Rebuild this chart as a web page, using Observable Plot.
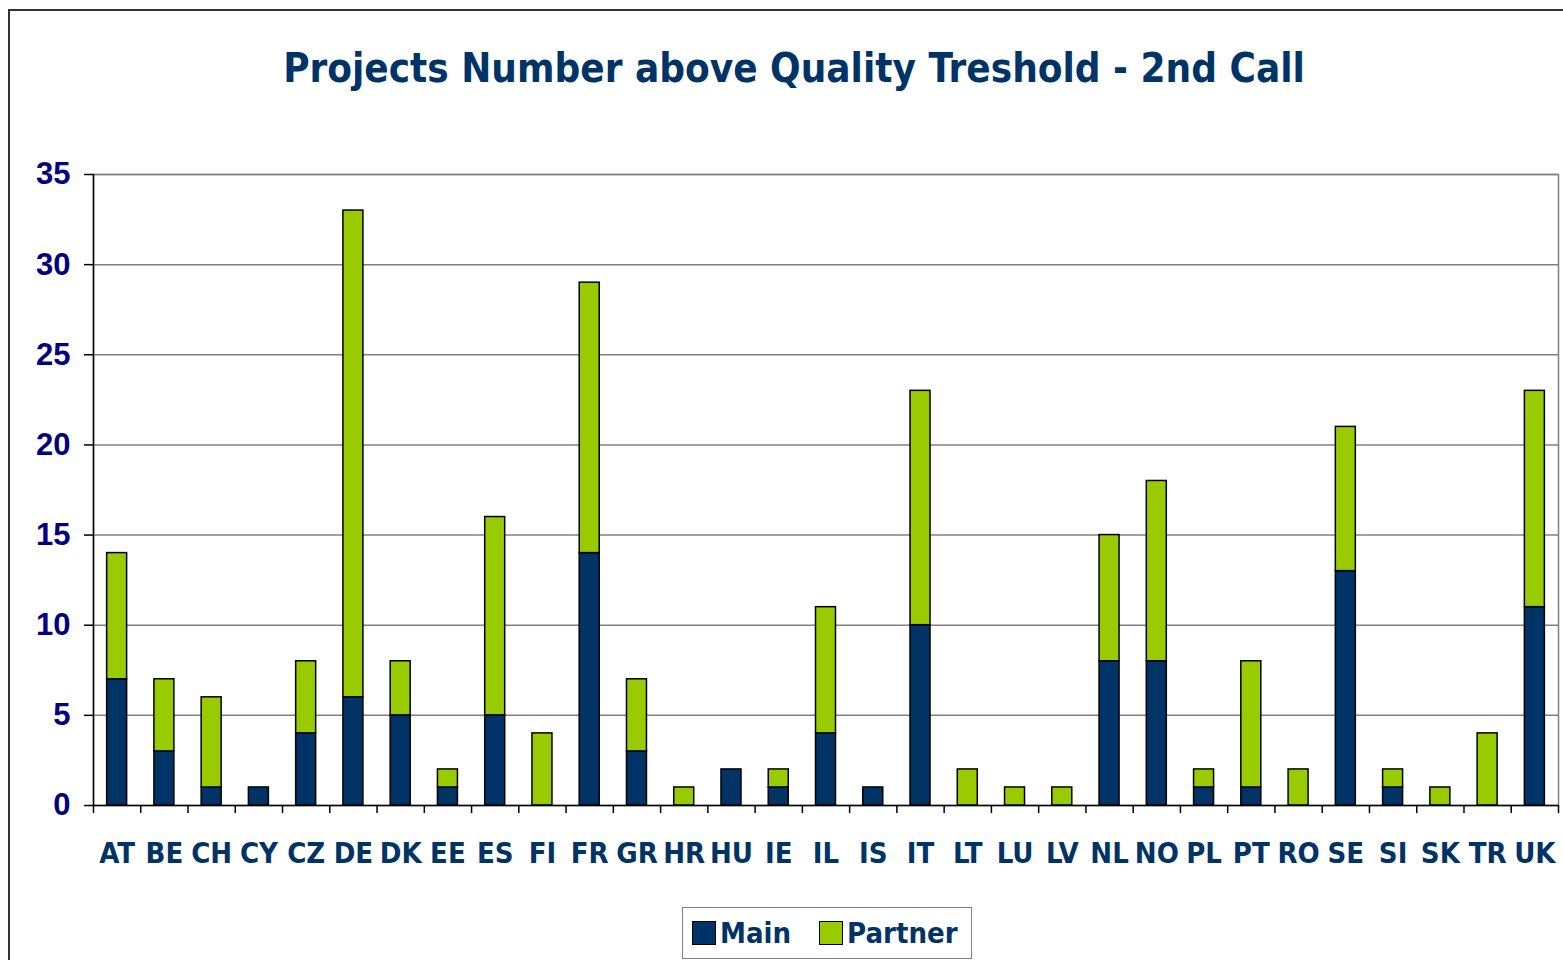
<!DOCTYPE html>
<html>
<head>
<meta charset="utf-8">
<script src="https://cdn.jsdelivr.net/npm/d3@7"></script>
<script src="https://cdn.jsdelivr.net/npm/@observablehq/plot@0.6"></script>
<style>
  html, body { margin: 0; padding: 0; background: #fff; }
  #wrap { position: relative; width: 1563px; height: 960px; overflow: hidden; background: #fff; }
  #outer { position: absolute; left: 8px; top: 9px; width: 1700px; height: 1100px; border: 2px solid #333; box-sizing: border-box; }
  #title { position: absolute; left: 0; width: 1588px; top: 48px; text-align: center;
    font-family: "DejaVu Sans Condensed", "DejaVu Sans", sans-serif; font-stretch: condensed; font-weight: bold;
    font-size: 40px; color: #003366; line-height: 1; white-space: nowrap; }
  #chart { position: absolute; left: 0; top: 0; }
  #legend { position: absolute; left: 682px; top: 907px; width: 290px; height: 52px; box-sizing: border-box;
    border: 1.5px solid #808080; background: #fff; display: flex; align-items: center; padding-left: 9px;
    font-family: "DejaVu Sans Condensed", "DejaVu Sans", sans-serif; font-stretch: condensed; font-weight: bold;
    font-size: 29px; color: #003366; }
  .item { display: flex; align-items: center; margin-right: 28px; }
  .sw { width: 22px; height: 22px; border: 1.5px solid #000; margin-right: 4px; }
</style>
</head>
<body>
<div id="wrap">
  <div id="outer"></div>
  <div id="chart"></div>
  <div id="title">Projects Number above Quality Treshold - 2nd Call</div>
  <div id="legend"></div>
</div>
<script>
const countries = ["AT","BE","CH","CY","CZ","DE","DK","EE","ES","FI","FR","GR","HR","HU","IE","IL","IS","IT","LT","LU","LV","NL","NO","PL","PT","RO","SE","SI","SK","TR","UK"];
const mainValues =    [7,3,1,1,4,6,5,1,5,0,14,3,0,2,1,4,1,10,0,0,0,8,8,1,1,0,13,1,0,0,11];
const partnerValues = [7,4,5,0,4,27,3,1,11,4,15,4,1,0,1,7,0,13,2,1,1,7,10,1,7,2,8,1,1,4,12];
const seriesNames = ["Main", "Partner"];
const seriesColors = ["#003366", "#99CC00"];
const yTicks = [0,5,10,15,20,25,30,35];

const data = [];
countries.forEach((c, i) => {
  if (mainValues[i] > 0) data.push({country: c, series: "Main", value: mainValues[i]});
  if (partnerValues[i] > 0) data.push({country: c, series: "Partner", value: partnerValues[i]});
});

const W = 1563, H = 890, mL = 93, mR = 5, mT = 174, mB = 85;
const step = (W - mL - mR) / countries.length;
const pad = 0.577;
const font = '"DejaVu Sans Condensed", "DejaVu Sans", sans-serif';

const chart = Plot.plot({
  width: W, height: H,
  marginLeft: mL, marginRight: mR, marginTop: mT, marginBottom: mB,
  style: {background: "transparent", overflow: "visible"},
  x: {domain: countries, paddingInner: pad, paddingOuter: pad / 2, align: 0.5, round: false, label: null},
  y: {domain: [0, 35], label: null},
  color: {domain: seriesNames, range: seriesColors},
  marks: [
    Plot.ruleY(yTicks.filter(d => d > 0), {y: d => d, stroke: "#808080", strokeWidth: 1.5}),
    Plot.frame({stroke: "#808080", strokeWidth: 1.5}),
    Plot.barY(data, {x: "country", y: "value", fill: "series", stroke: "#000", strokeWidth: 1.5, order: seriesNames}),
    Plot.ruleY([0], {stroke: "#000", strokeWidth: 1.5}),
    Plot.ruleX([countries[0]], {x: d => d, dx: -step / 2, y1: 0, y2: 35, stroke: "#000", strokeWidth: 1.5}),
    Plot.ruleX(countries, {x: d => d, dx: -step / 2, y1: 0, y2: -0.45, stroke: "#000", strokeWidth: 1.5}),
    Plot.ruleX([countries[countries.length - 1]], {x: d => d, dx: step / 2, y1: 0, y2: -0.45, stroke: "#000", strokeWidth: 1.5}),
    Plot.axisY({ticks: yTicks, tickFormat: d => d, tickSize: 9, tickPadding: 14, stroke: "#000", strokeWidth: 1.5,
      fontSize: 31, fontWeight: "bold", fill: "#000080", fontFamily: '"Liberation Sans", Arial, sans-serif', label: null}),
    Plot.axisX({tickSize: 0, tickPadding: 37, fontSize: 29, fontWeight: "bold", fill: "#003366",
      fontFamily: font, label: null})
  ]
});
chart.querySelectorAll("text").forEach(t => t.style.fontStretch = "condensed");
document.getElementById("chart").appendChild(chart);

const legend = document.getElementById("legend");
seriesNames.forEach((s, i) => {
  const item = document.createElement("div");
  item.className = "item";
  const sw = document.createElement("div");
  sw.className = "sw";
  sw.style.background = seriesColors[i];
  const lab = document.createElement("span");
  lab.textContent = s;
  item.appendChild(sw);
  item.appendChild(lab);
  legend.appendChild(item);
});
</script>
</body>
</html>
